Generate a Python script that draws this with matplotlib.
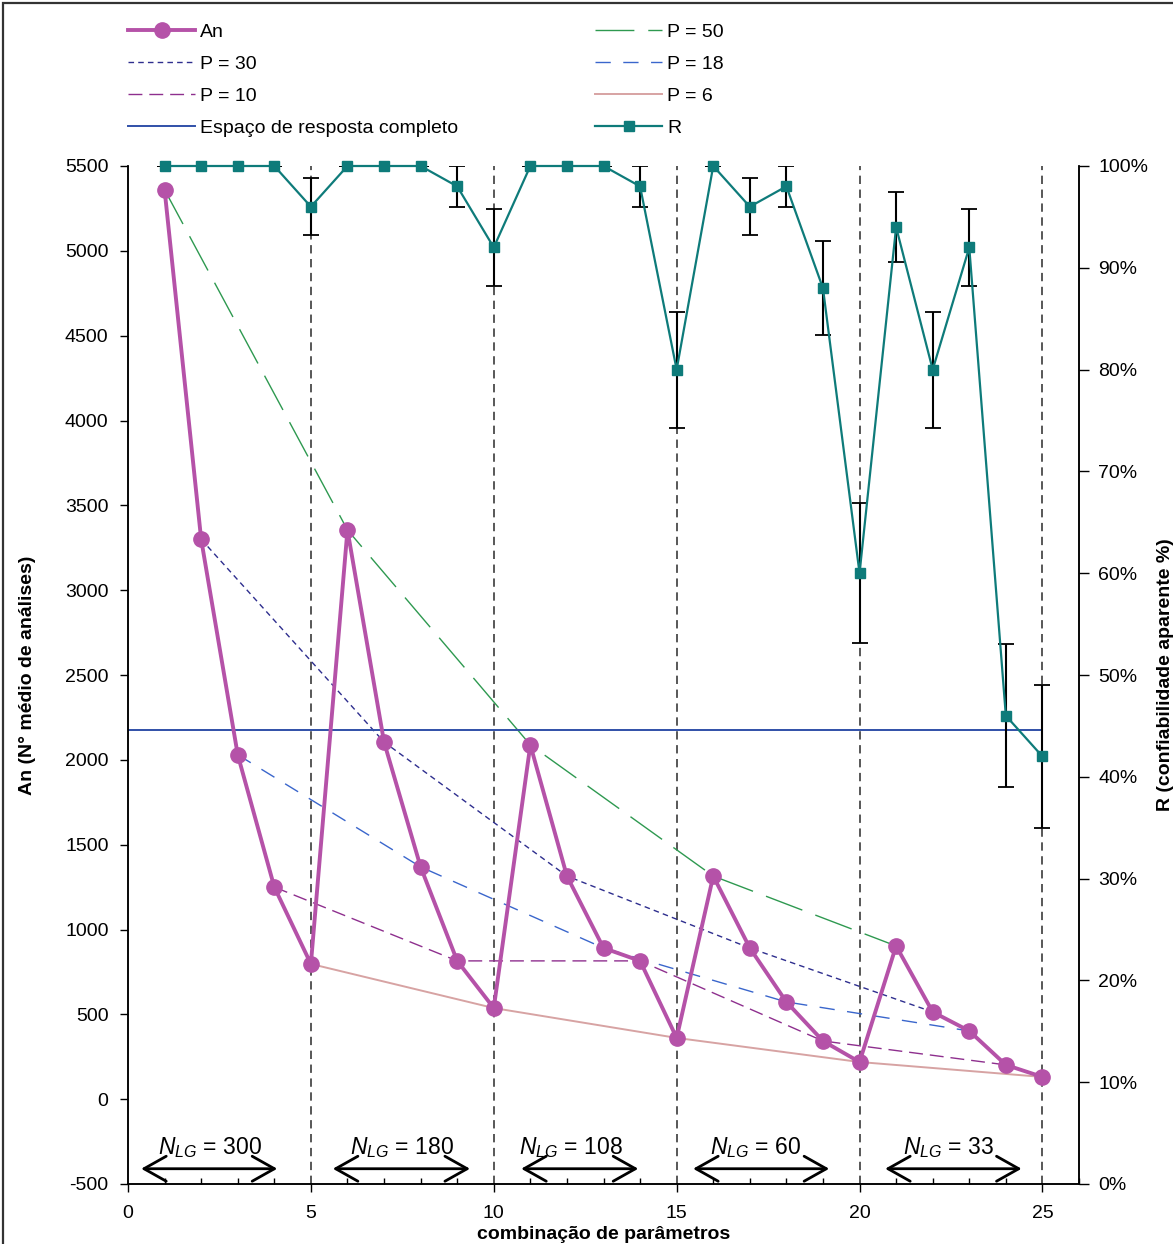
import matplotlib
matplotlib.use('Agg')
import matplotlib.pyplot as plt
from matplotlib.patches import Rectangle
from matplotlib.ticker import MultipleLocator, FixedLocator

plt.rcParams['font.family'] = ['Liberation Sans', 'DejaVu Sans']
plt.rcParams['mathtext.fontset'] = 'custom'
plt.rcParams['mathtext.rm'] = 'Liberation Sans'
plt.rcParams['mathtext.it'] = 'Liberation Sans:italic'
plt.rcParams['lines.scale_dashes'] = False
plt.rcParams['axes.unicode_minus'] = False

# ---------------- data ----------------
combo = list(range(1, 26))
an = [5360, 3300, 2030, 1250, 797, 3355, 2105, 1369, 815, 537,
      2088, 1315, 891, 815, 361, 1315, 891, 573, 343, 219,
      903, 514, 402, 202, 131]
r_pct = [100, 100, 100, 100, 96, 100, 100, 100, 98, 92,
         100, 100, 100, 98, 80, 100, 96, 98, 88, 60,
         94, 80, 92, 46, 42]
r_err = [0, 0, 0, 0, 2.8, 0, 0, 0, 2.0, 3.8,
         0, 0, 0, 2.0, 5.7, 0, 2.8, 2.0, 4.6, 6.9,
         3.4, 5.7, 3.8, 7.0, 7.0]
full_space = 2176
p_labels = ['P = 50', 'P = 30', 'P = 18', 'P = 10', 'P = 6']
p_combos = [[1, 6, 11, 16, 21], [2, 7, 12, 17, 22], [3, 8, 13, 18, 23],
            [4, 9, 14, 19, 24], [5, 10, 15, 20, 25]]
nlg_labels = ['300', '180', '108', '60', '33']
nlg_label_x = [2.24, 7.5, 12.1, 17.15, 22.43]
nlg_arrow_start = [0.36, 5.6, 10.75, 15.45, 20.7]
nlg_arrow_end = [4.08, 9.35, 13.95, 19.17, 24.43]
block_bounds = [5, 10, 15, 20, 25]
x_ticks = [0, 5, 10, 15, 20, 25]
y_ticks = list(range(-500, 5501, 500))
r_ticks = list(range(0, 101, 10))

# ---------------- styles ----------------
c_an = '#B552A8'
c_r = '#0E7B7A'
p_colors = ['#2E9950', '#2E2E8E', '#3A66CC', '#8E2F8E', '#D7A3A3']
p_styles = [(0, (28, 10)), (0, (4, 3)), (0, (11, 9)), (0, (10, 5)), '-']
p_widths = [1.0, 1.0, 1.0, 1.0, 1.4]

W, H = 1173, 1244
fig = plt.figure(figsize=(W / 100, H / 100), dpi=100)
ax = fig.add_axes([128 / W, 1 - 1184 / H, (1079 - 128) / W, (1184 - 166) / H])
ax2 = ax.twinx()

# vertical block separators
for xb in block_bounds:
    ax.axvline(xb, color='#4A4A4A', lw=1.3, ls=(0, (6, 4)), zorder=1)

# P lines
p_handles = []
for lab, cmb, col, sty, lw in zip(p_labels, p_combos, p_colors, p_styles, p_widths):
    xs = cmb
    ys = [an[c - 1] for c in cmb]
    h, = ax.plot(xs, ys, color=col, ls=sty, lw=lw, label=lab, zorder=2)
    p_handles.append(h)

# complete response space line
h_full, = ax.plot([0, 25], [full_space, full_space], color='#3050A8', lw=1.4,
                  label='Espaço de resposta completo', zorder=2)

# An
h_an, = ax.plot(combo, an, color=c_an, lw=2.8, marker='o', ms=11,
                mec=c_an, mfc=c_an, label='An', zorder=4)

# R with error bars
ax2.errorbar(combo, r_pct, yerr=r_err, fmt='none', ecolor='black',
             elinewidth=1.5, capsize=6, capthick=1.3, zorder=3)
h_r, = ax2.plot(combo, r_pct, color=c_r, lw=1.6, marker='s', ms=7,
                mec=c_r, mfc=c_r, label='R', zorder=4, clip_on=False)

# N_LG arrows and labels
for lab, lx, xs, xe in zip(nlg_labels, nlg_label_x, nlg_arrow_start, nlg_arrow_end):
    ax.annotate('', xy=(xe, -410), xytext=(xs, -410),
                arrowprops=dict(arrowstyle='<->,head_length=0.8,head_width=0.45',
                                lw=2, color='black', mutation_scale=20,
                                shrinkA=0, shrinkB=0))
    ax.text(lx, -285, r'$N_{LG}$' + ' = ' + lab, ha='center', va='center',
            fontsize=16.5)

# axes limits / ticks
ax.set_xlim(0, 26)
ax.set_ylim(-500, 5500)
ax2.set_ylim(0, 100)
ax.xaxis.set_major_locator(FixedLocator(x_ticks))
ax.xaxis.set_minor_locator(MultipleLocator(1))
ax.yaxis.set_major_locator(FixedLocator(y_ticks))
ax2.yaxis.set_major_locator(FixedLocator(r_ticks))
ax2.set_yticklabels([f'{t}%' for t in r_ticks])

ax.tick_params(axis='x', which='major', direction='out', length=6, width=1,
               pad=9, labelsize=14)
ax.tick_params(axis='x', which='minor', direction='in', length=4, width=1)
ax.tick_params(axis='y', which='major', direction='out', length=6, width=1,
               pad=8, labelsize=14)
ax2.tick_params(axis='y', which='major', direction='out', length=7, width=1,
                pad=7, labelsize=14)

for a in (ax, ax2):
    a.spines['top'].set_visible(False)
    for s in ('left', 'right', 'bottom'):
        a.spines[s].set_linewidth(1.1)

ax.set_xlabel('combinação de parâmetros', fontsize=14, fontweight='bold')
ax.xaxis.set_label_coords(0.5, -0.041)
ax.set_ylabel('An (N° médio de análises)', fontsize=14, fontweight='bold')
ax.yaxis.set_label_coords(-0.097, 0.5)
ax2.set_ylabel('R (confiabilidade aparente %)', fontsize=14, fontweight='bold',
               rotation=90)
ax2.yaxis.set_label_coords(1.082, 0.5)

# legends (two columns)
leg_kw = dict(loc='upper left', frameon=False, fontsize=14, borderpad=0,
              borderaxespad=0, handlelength=3.45, handletextpad=0.25,
              labelspacing=0.74, bbox_transform=fig.transFigure)
leg1 = ax2.legend([h_an, p_handles[1], p_handles[3], h_full],
                  ['An', 'P = 30', 'P = 10', 'Espaço de resposta completo'],
                  bbox_to_anchor=(128 / W, 1 - 23 / H), **leg_kw)
ax2.add_artist(leg1)
leg2 = ax2.legend([p_handles[0], p_handles[2], p_handles[4], h_r],
                  ['P = 50', 'P = 18', 'P = 6', 'R'],
                  bbox_to_anchor=(595 / W, 1 - 23 / H), **leg_kw)

# figure border
fig.add_artist(Rectangle((2.5 / W, -0.1), 1.5, 1 - 2.5 / H + 0.1,
                         transform=fig.transFigure, fill=False,
                         lw=1.6, ec='#333333'))

fig.savefig('out.png', dpi=100)
